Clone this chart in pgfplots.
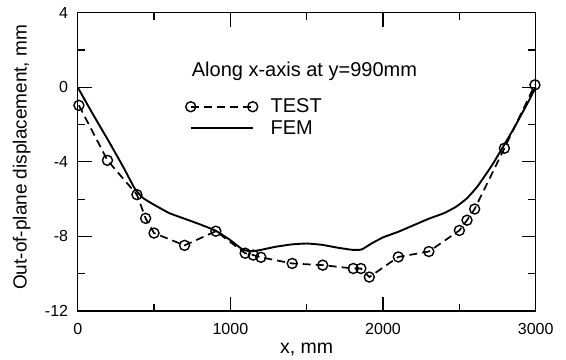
\documentclass[border=0pt]{standalone}
\usepackage{fontspec}
\setmainfont{Liberation Sans}
\usepackage{pgfplots}
\pgfplotsset{compat=1.18}
\begin{document}
\begin{tikzpicture}
\begin{axis}[
  at={(0,0)}, anchor=south west,
  scale only axis, width=458pt, height=298.3pt,
  xmin=0, xmax=3000, ymin=-12, ymax=4,
  xtick={0,1000,2000,3000}, ytick={-12,-8,-4,0,4},
  minor xtick={500,1500,2500}, minor ytick={-10,-6,-2,2},
  tick align=inside, major tick length=14pt, minor tick length=7.5pt,
  every tick/.style={black, line width=1.2pt},
  axis line style={line width=1.3pt},
  clip=false,
  /pgf/number format/assume math mode=true,
  /pgf/number format/1000 sep={},
  tick label style={font=\fontsize{16}{19}\selectfont},
  xticklabel style={inner sep=0pt, anchor=north, yshift=-12pt},
  yticklabel style={inner sep=0pt, anchor=east, xshift=-9.4pt},
  xlabel={x, mm},
  ylabel={Out-of-plane displacement, mm},
  every axis x label/.style={at={(axis description cs:0.5,-0.1418)}, anchor=base, font=\fontsize{19.5}{23}\selectfont},
  every axis y label/.style={at={(axis description cs:-0.1114,0.515)}, rotate=90, anchor=base, font=\fontsize{19}{23}\selectfont},
  legend style={at={(axis description cs:0.2338,0.7107)}, anchor=north west,
    draw=none, fill=none, inner sep=0pt, outer sep=0pt,
    font=\fontsize{20}{24}\selectfont, row sep=6pt, column sep=12pt,
    nodes={inner sep=0pt}},
  legend cell align=left,
]
\addplot[black, line width=1.7pt, dash pattern=on 8pt off 5pt, mark=o, mark size=5pt,
  mark options={solid, line width=1.4pt},
  legend image code/.code={\draw plot coordinates {(0pt,0pt) (62pt,0pt)};}]
coordinates {
(8,-0.97) (195,-3.92) (388,-5.76) (445,-7.03) (500,-7.82) (700,-8.48)
(905,-7.72) (1097,-8.9) (1150,-9.0) (1200,-9.12) (1405,-9.45) (1605,-9.54)
(1805,-9.72) (1855,-9.72) (1910,-10.18) (2100,-9.1) (2300,-8.81) (2500,-7.68)
(2550,-7.13) (2600,-6.53) (2795,-3.27) (2995,0.13)
};
\addlegendentry{TEST}
\addplot[black, line width=1.9pt, smooth, tension=0.3,
  legend image code/.code={\path (-5pt,0pt) (67pt,0pt); \draw (0pt,0pt) -- (62pt,0pt);}]
coordinates {
(0,0) (100,-1.45) (200,-2.85) (300,-4.3) (375,-5.45) (430,-5.95) (500,-6.3)
(600,-6.75) (700,-7.05) (800,-7.35) (905,-7.7) (1000,-8.2) (1080,-8.7)
(1140,-8.8) (1200,-8.72) (1300,-8.55) (1400,-8.43) (1500,-8.38) (1600,-8.45)
(1700,-8.6) (1800,-8.72) (1860,-8.7) (1920,-8.4) (2000,-8.05) (2100,-7.75)
(2200,-7.4) (2300,-7.05) (2400,-6.75) (2480,-6.4) (2550,-5.95) (2620,-5.3)
(2720,-4.1) (2850,-2.3) (2950,-0.8) (3000,0)
};
\addlegendentry{FEM}
\node[anchor=base west, inner sep=0pt, font=\fontsize{20}{24}\selectfont]
  at (axis description cs:0.2489,0.7878) {Along x-axis at y=990mm};
\end{axis}
\pgfresetboundingbox
\useasboundingbox ([xshift=-77.7pt,yshift=-48pt]current axis.south west)
  rectangle ([xshift=30.3pt,yshift=12.7pt]current axis.north east);
\end{tikzpicture}
\end{document}
